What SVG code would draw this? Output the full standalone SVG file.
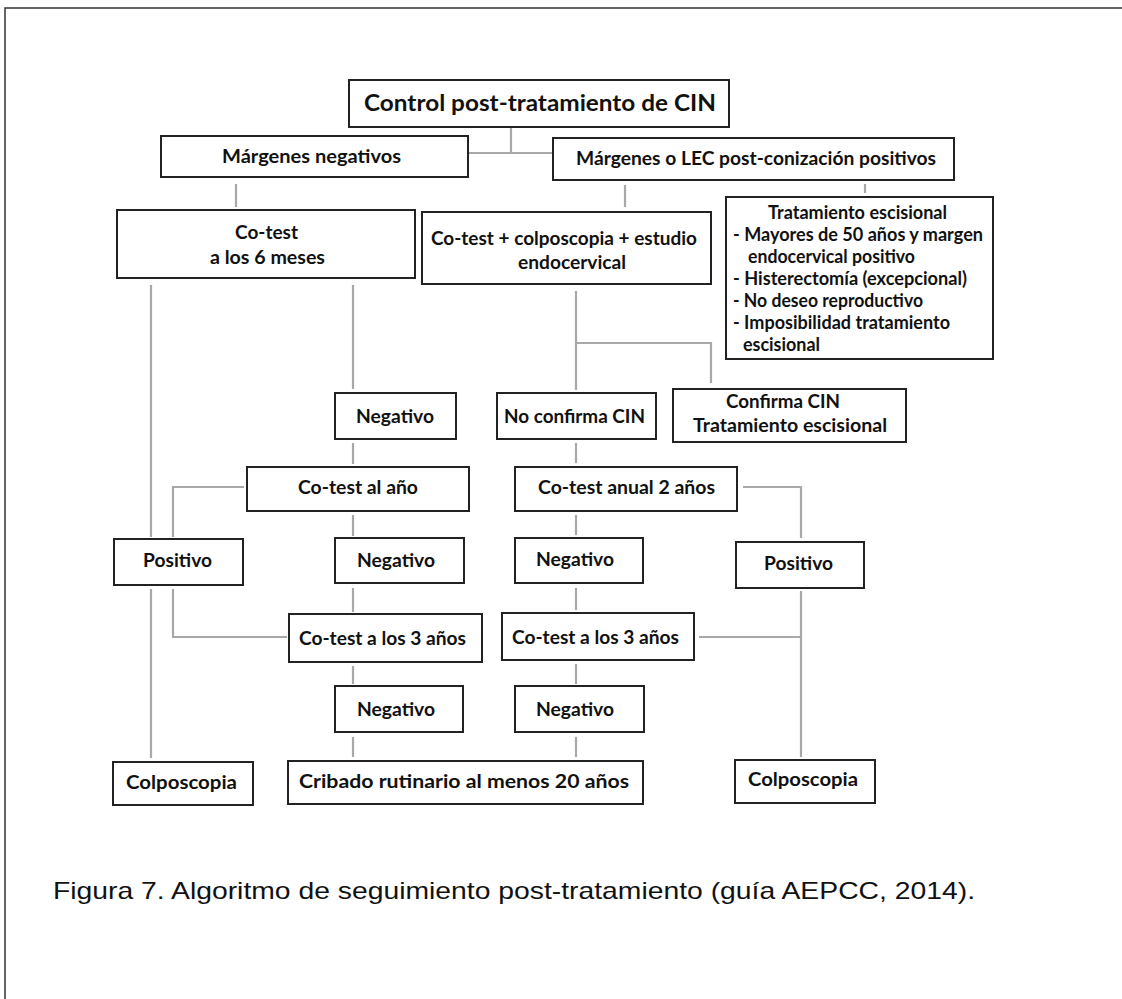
<svg xmlns="http://www.w3.org/2000/svg" width="1122" height="999" viewBox="0 0 1122 999">
<style>
.bx{fill:#fff;stroke:#222;stroke-width:2}
.t{font-family:Lato,"Open Sans","Liberation Sans",sans-serif;font-weight:700;font-size:19.5px;fill:#111}
.s{font-size:18.5px}
.h{font-size:23px}
.ln{stroke:#a8a8a8;stroke-width:2.2;fill:none}
.cap{font-family:"Liberation Sans",Arial,sans-serif;font-size:24px;fill:#111}
</style>
<rect width="1122" height="999" fill="#fff"/>
<path d="M5,999 V8 H1122" fill="none" stroke="#333" stroke-width="1.5"/>
<g id="connectors">
<path class="ln" d="M511,127 V153 M468,153 H553"/>
<path class="ln" d="M236,184 V207"/>
<path class="ln" d="M625,185 V207"/>
<path class="ln" d="M865,184 V193"/>
<path class="ln" d="M151,285 V537 M151,589 V758"/>
<path class="ln" d="M353,285 V389"/>
<path class="ln" d="M576,291 V390 M576,343 H711 V383"/>
<path class="ln" d="M353,443 V464"/>
<path class="ln" d="M576,443 V463"/>
<path class="ln" d="M244,487 H173 V537"/>
<path class="ln" d="M353,515 V536"/>
<path class="ln" d="M576,515 V535"/>
<path class="ln" d="M743,487 H801 V538"/>
<path class="ln" d="M353,588 V612"/>
<path class="ln" d="M576,588 V610"/>
<path class="ln" d="M173,589 V637 H287"/>
<path class="ln" d="M801,591 V757 M699,637 H801"/>
<path class="ln" d="M353,666 V684"/>
<path class="ln" d="M576,664 V684"/>
<path class="ln" d="M353,737 V757"/>
<path class="ln" d="M576,737 V757"/>
</g>
<g id="n-title"><rect class="bx" x="349" y="80" width="380" height="47"/><text class="t h" x="364" y="111" textLength="352" lengthAdjust="spacingAndGlyphs">Control post-tratamiento de CIN</text></g>
<g id="n-margneg"><rect class="bx" x="161" y="136" width="307" height="41"/><text class="t" x="222" y="163" textLength="179" lengthAdjust="spacingAndGlyphs">Márgenes negativos</text></g>
<g id="n-margpos"><rect class="bx" x="553" y="138" width="401" height="42"/><text class="t" x="576" y="165" textLength="360" lengthAdjust="spacingAndGlyphs">Márgenes o LEC post-conización positivos</text></g>
<g id="n-cotest6"><rect class="bx" x="117" y="210" width="298" height="68"/><text class="t" x="235" y="239" textLength="63" lengthAdjust="spacingAndGlyphs">Co-test</text><text class="t" x="210" y="264" textLength="115" lengthAdjust="spacingAndGlyphs">a los 6 meses</text></g>
<g id="n-colpo"><rect class="bx" x="422" y="212" width="289" height="72"/><text class="t" x="431" y="245" textLength="266" lengthAdjust="spacingAndGlyphs">Co-test + colposcopia + estudio</text><text class="t" x="518" y="269" textLength="108" lengthAdjust="spacingAndGlyphs">endocervical</text></g>
<g id="n-trat"><rect class="bx" x="726" y="197" width="267" height="162"/>
<text class="t s" x="768" y="219" textLength="179" lengthAdjust="spacingAndGlyphs">Tratamiento escisional</text>
<text class="t s" x="733" y="241" textLength="250" lengthAdjust="spacingAndGlyphs">- Mayores de 50 años y margen</text>
<text class="t s" x="748" y="263" textLength="167" lengthAdjust="spacingAndGlyphs">endocervical positivo</text>
<text class="t s" x="733" y="285" textLength="234" lengthAdjust="spacingAndGlyphs">- Histerectomía (excepcional)</text>
<text class="t s" x="733" y="307" textLength="190" lengthAdjust="spacingAndGlyphs">- No deseo reproductivo</text>
<text class="t s" x="733" y="329" textLength="217" lengthAdjust="spacingAndGlyphs">- Imposibilidad tratamiento</text>
<text class="t s" x="743" y="351" textLength="77" lengthAdjust="spacingAndGlyphs">escisional</text></g>
<g id="n-confirma"><rect class="bx" x="673" y="389" width="233" height="53"/><text class="t" x="726" y="408" textLength="114" lengthAdjust="spacingAndGlyphs">Confirma CIN</text><text class="t" x="693" y="432" textLength="194" lengthAdjust="spacingAndGlyphs">Tratamiento escisional</text></g>
<g id="n-neg1"><rect class="bx" x="335" y="393" width="121" height="46"/><text class="t" x="356" y="423" textLength="78" lengthAdjust="spacingAndGlyphs">Negativo</text></g>
<g id="n-noconf"><rect class="bx" x="497" y="393" width="159" height="46"/><text class="t" x="504" y="423" textLength="141" lengthAdjust="spacingAndGlyphs">No confirma CIN</text></g>
<g id="n-cotestano"><rect class="bx" x="247" y="467" width="222" height="44"/><text class="t" x="298" y="494" textLength="120" lengthAdjust="spacingAndGlyphs">Co-test al año</text></g>
<g id="n-cotestanual"><rect class="bx" x="515" y="467" width="222" height="44"/><text class="t" x="538" y="494" textLength="177" lengthAdjust="spacingAndGlyphs">Co-test anual 2 años</text></g>
<g id="n-pos1"><rect class="bx" x="114" y="539" width="129" height="46"/><text class="t" x="143" y="567" textLength="69" lengthAdjust="spacingAndGlyphs">Positivo</text></g>
<g id="n-neg2"><rect class="bx" x="335" y="538" width="129" height="45"/><text class="t" x="357" y="567" textLength="78" lengthAdjust="spacingAndGlyphs">Negativo</text></g>
<g id="n-neg2b"><rect class="bx" x="515" y="538" width="128" height="45"/><text class="t" x="536" y="566" textLength="78" lengthAdjust="spacingAndGlyphs">Negativo</text></g>
<g id="n-pos2"><rect class="bx" x="736" y="542" width="128" height="46"/><text class="t" x="764" y="570" textLength="69" lengthAdjust="spacingAndGlyphs">Positivo</text></g>
<g id="n-cotest3a"><rect class="bx" x="289" y="614" width="193" height="48"/><text class="t" x="299" y="645" textLength="167" lengthAdjust="spacingAndGlyphs">Co-test a los 3 años</text></g>
<g id="n-cotest3b"><rect class="bx" x="502" y="613" width="192" height="47"/><text class="t" x="512" y="644" textLength="167" lengthAdjust="spacingAndGlyphs">Co-test a los 3 años</text></g>
<g id="n-neg3a"><rect class="bx" x="335" y="686" width="128" height="46"/><text class="t" x="357" y="716" textLength="78" lengthAdjust="spacingAndGlyphs">Negativo</text></g>
<g id="n-neg3b"><rect class="bx" x="515" y="686" width="129" height="46"/><text class="t" x="536" y="716" textLength="78" lengthAdjust="spacingAndGlyphs">Negativo</text></g>
<g id="n-colpo1"><rect class="bx" x="113" y="762" width="140" height="43"/><text class="t" x="126" y="789" textLength="111" lengthAdjust="spacingAndGlyphs">Colposcopia</text></g>
<g id="n-cribado"><rect class="bx" x="288" y="761" width="355" height="43"/><text class="t" x="299" y="788" textLength="330" lengthAdjust="spacingAndGlyphs">Cribado rutinario al menos 20 años</text></g>
<g id="n-colpo2"><rect class="bx" x="735" y="760" width="140" height="43"/><text class="t" x="748" y="786" textLength="110" lengthAdjust="spacingAndGlyphs">Colposcopia</text></g>
<text class="cap" x="53" y="899" textLength="922" lengthAdjust="spacingAndGlyphs">Figura 7. Algoritmo de seguimiento post-tratamiento (guía AEPCC, 2014).</text>
</svg>
